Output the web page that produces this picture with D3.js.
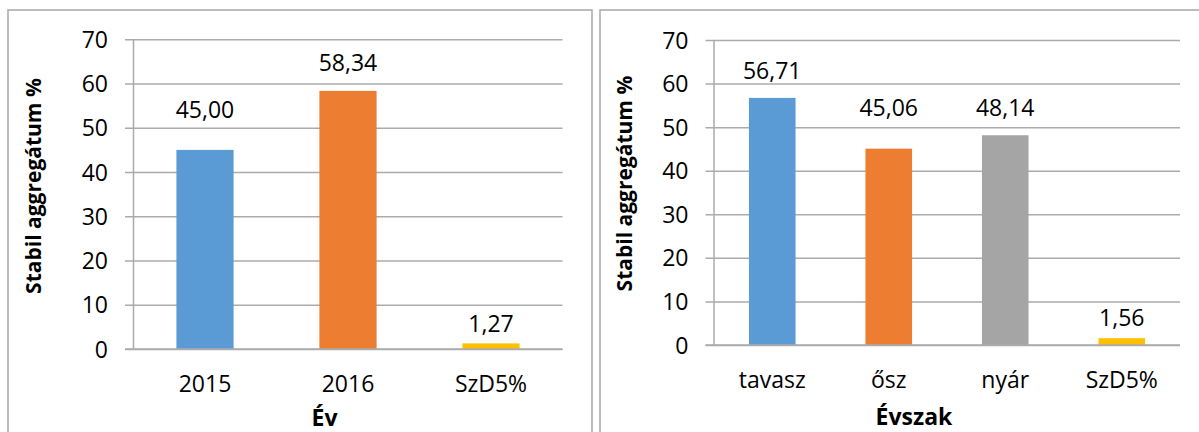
<!DOCTYPE html>
<html>
<head>
<meta charset="utf-8">
<script src="https://cdn.jsdelivr.net/npm/d3@7"></script>
<style>
  html, body { margin: 0; padding: 0; background: #fff; }
  svg { display: block; }
  text { font-family: "Open Sans", "Noto Sans", sans-serif; fill: #000; }
</style>
</head>
<body>
<svg id="chart" width="1199" height="432"></svg>
<script>
// ---- Data ----
const yearCategories = ["2015", "2016", "SzD5%"];
const yearValues = [45.00, 58.34, 1.27];
const yearLabels = ["45,00", "58,34", "1,27"];

const seasonCategories = ["tavasz", "ősz", "nyár", "SzD5%"];
const seasonValues = [56.71, 45.06, 48.14, 1.56];
const seasonLabels = ["56,71", "45,06", "48,14", "1,56"];

const yTicks = [0, 10, 20, 30, 40, 50, 60, 70];
const yTitle = "Stabil aggregátum %";
const leftXTitle = "Év";
const rightXTitle = "Évszak";

// ---- Styling ----
const yearColors = ["#5B9BD5", "#ED7D31", "#FFC000"];
const seasonColors = ["#5B9BD5", "#ED7D31", "#A5A5A5", "#FFC000"];
const yearLabelGaps = [40, 28, 19];
const seasonLabelGaps = [27, 41, 27, 20];

const svg = d3.select("#chart");
const gridColor = "#ababab";
const borderColor = "#a6a6a6";
const fontSize = 23;

function drawChart(o) {
  const g = svg.append("g");
  // panel border
  g.append("rect")
    .attr("x", o.panel[0]).attr("y", o.panel[1])
    .attr("width", o.panel[2]).attr("height", o.panel[3])
    .attr("fill", "#fff").attr("stroke", borderColor).attr("stroke-width", 1.5);

  const y = d3.scaleLinear().domain([0, 70]).range([o.y0, o.y70]);
  const x = d3.scaleBand().domain(o.categories).range([o.x0, o.x1])
    .paddingInner(0.6).paddingOuter(0.3);

  // gridlines + tick marks
  const yAxis = d3.axisLeft(y).tickValues(yTicks).tickSize(-(o.x1 - o.x0))
    .tickSizeOuter(0).tickFormat(d3.format("d")).tickPadding(0);
  const ga = g.append("g").attr("transform", `translate(${o.x0},0)`).call(yAxis);
  ga.select(".domain").remove();
  ga.selectAll(".tick line").attr("stroke", gridColor).attr("stroke-width", 1.5)
    .attr("x1", -8.5).attr("x2", o.x1 - o.x0);
  ga.selectAll(".tick text")
    .attr("x", -25.5).attr("dy", "0.35em")
    .style("font-family", '"Open Sans", sans-serif')
    .style("font-size", fontSize + "px").attr("fill", "#000");

  // vertical axis line
  g.append("line").attr("x1", o.x0).attr("x2", o.x0)
    .attr("y1", y(70)).attr("y2", y(0))
    .attr("stroke", gridColor).attr("stroke-width", 1.5);

  // bars
  g.selectAll("rect.bar").data(o.values).enter().append("rect")
    .attr("class", "bar")
    .attr("x", (d, i) => x(o.categories[i]))
    .attr("width", x.bandwidth())
    .attr("y", d => y(d))
    .attr("height", d => y(0) - y(d))
    .attr("fill", (d, i) => o.colors[i]);

  // re-draw baseline over bars
  g.append("line").attr("x1", o.x0 - 8.5).attr("x2", o.x1)
    .attr("y1", y(0)).attr("y2", y(0))
    .attr("stroke", gridColor).attr("stroke-width", 1.5);

  // value labels
  g.selectAll("text.val").data(o.values).enter().append("text")
    .attr("class", "val")
    .attr("x", (d, i) => x(o.categories[i]) + x.bandwidth() / 2)
    .attr("y", (d, i) => y(d) - o.gaps[i])
    .attr("dy", "0.35em")
    .attr("text-anchor", "middle")
    .style("font-size", fontSize + "px")
    .text((d, i) => o.labels[i]);

  // x category labels
  const xAxis = d3.axisBottom(x).tickSize(0).tickPadding(0);
  const gx = g.append("g").attr("transform", `translate(0,${o.catY})`).call(xAxis);
  gx.select(".domain").remove();
  gx.selectAll(".tick text").attr("y", 0).attr("dy", "0.35em")
    .style("font-family", '"Open Sans", sans-serif')
    .style("font-size", fontSize + "px").attr("fill", "#000");

  // x title
  g.append("text").attr("x", o.xTitlePos[0]).attr("y", o.xTitlePos[1])
    .attr("dy", "0.35em").attr("text-anchor", "middle")
    .style("font-size", "23px").style("font-weight", "bold")
    .text(o.xTitle);

  // y title
  g.append("text")
    .attr("transform", `translate(${o.yTitlePos[0]},${o.yTitlePos[1]}) rotate(-90)`)
    .attr("dy", "0.35em").attr("text-anchor", "middle")
    .style("font-size", "21px").style("font-weight", "bold")
    .text(yTitle);
}

drawChart({
  panel: [8, 10, 584, 440],
  categories: yearCategories, values: yearValues, labels: yearLabels,
  colors: yearColors, gaps: yearLabelGaps,
  x0: 133.5, x1: 562.5, y0: 349, y70: 39.3,
  catY: 384, xTitle: leftXTitle, xTitlePos: [324.5, 418], yTitlePos: [34, 186]
});

drawChart({
  panel: [600, 10, 620, 440],
  categories: seasonCategories, values: seasonValues, labels: seasonLabels,
  colors: seasonColors, gaps: seasonLabelGaps,
  x0: 714, x1: 1180, y0: 345, y70: 40,
  catY: 380, xTitle: rightXTitle, xTitlePos: [914, 417], yTitlePos: [625, 183.5]
});
</script>
</body>
</html>
